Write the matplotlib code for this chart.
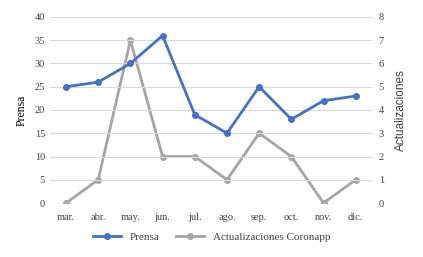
import matplotlib
matplotlib.use("agg")
import matplotlib.pyplot as plt

months = ["mar.", "abr.", "may.", "jun.", "jul.", "ago.", "sep.", "oct.", "nov.", "dic."]
prensa = [25, 26, 30, 36, 19, 15, 25, 18, 22, 23]
actualizaciones = [0, 1, 7, 2, 2, 1, 3, 2, 0, 1]

BLUE = "#4472C4"
GRAY = "#A5A5A5"
plt.rcParams["font.family"] = "Liberation Serif"

fig = plt.figure(figsize=(4.23, 2.57), dpi=100)
ax = fig.add_axes([0.118, 0.21, 0.761, 0.724])
ax2 = ax.twinx()

x = list(range(len(months)))
l1, = ax.plot(x, prensa, color=BLUE, lw=2, marker="o", ms=4, label="Prensa", zorder=3)
l2, = ax2.plot(x, actualizaciones, color=GRAY, lw=2, marker="o", ms=4,
               label="Actualizaciones Coronapp", zorder=2)
ax.set_zorder(ax2.get_zorder() + 1)
ax.patch.set_visible(False)

ax.set_xlim(-0.5, 9.5)
ax.set_ylim(0, 40)
ax.set_yticks(range(0, 41, 5))
ax2.set_ylim(0, 8)
ax2.set_yticks(range(0, 9))
ax.set_xticks(x)
ax.set_xticklabels(months)
ax.grid(axis="y", color="#D9D9D9", lw=0.8)

for a in (ax, ax2):
    for s in a.spines.values():
        s.set_visible(False)
    a.tick_params(length=0, labelsize=7.5, colors="#404040")
ax.tick_params(axis="x", pad=7)
ax2.tick_params(axis="y", pad=5)

ax.set_ylabel("Prensa", fontsize=8.5, labelpad=5)
ax2.set_ylabel("Actualizaciones", fontsize=8.5, family="Liberation Sans",
               color="#404040", labelpad=8)

fig.legend([l1, l2], ["Prensa", "Actualizaciones Coronapp"], loc="center",
           bbox_to_anchor=(0.5, 0.078), ncol=2, frameon=False, fontsize=8,
           handlelength=2.5, columnspacing=1.5, labelcolor="#404040")

fig.savefig("out.png", dpi=100)
